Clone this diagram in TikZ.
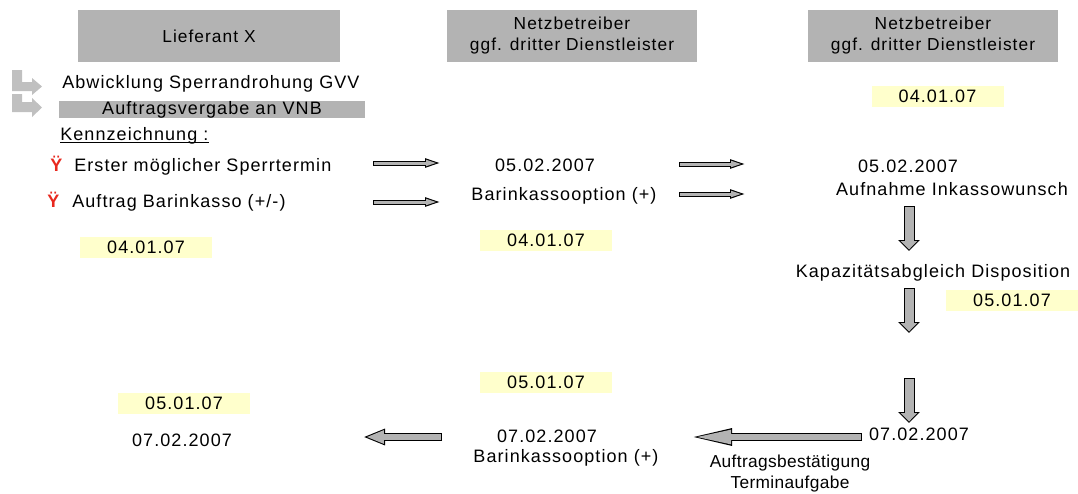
\documentclass[tikz,border=0pt]{standalone}
\usepackage{fontspec}
\setmainfont{Liberation Sans}[LetterSpace=6]
\usetikzlibrary{arrows.meta}
\definecolor{boxgray}{HTML}{B3B3B3}
\definecolor{bendgray}{HTML}{C0C0C0}
\definecolor{notefill}{HTML}{FFFFCC}
\definecolor{markred}{HTML}{E8281E}
% block arrow: black outline pass, then grey filling pass
\newcommand{\blockarrow}[3]{\draw[#1 out] (#2) -- (#3); \draw[#1 in] (#2) -- (#3);}

\begin{document}
\begin{tikzpicture}[x=0.75pt,y=-0.75pt,
    lbl/.style={inner sep=0pt, font=\fontsize{13.5}{16}\selectfont},
    head/.style={fill=boxgray, minimum width=187.5pt, minimum height=39pt, align=center, font=\fontsize{13}{15.75}\selectfont},
    datebox/.style={fill=notefill, minimum width=99pt, minimum height=15.75pt, inner sep=0pt, font=\fontsize{13.5}{16}\selectfont},
    thin out/.style={line width=3.75pt, -{Triangle[length=12.75pt,width=6pt]}},
    thin in/.style={boxgray, line width=2.25pt, shorten <=0.75pt, shorten >=3.3pt, -{Triangle[length=8.7pt,width=4.1pt]}},
    down out/.style={line width=8.25pt, -{Triangle[length=8.25pt,width=15.75pt]}},
    down in/.style={boxgray, line width=6.75pt, shorten <=0.75pt, shorten >=1.1pt, -{Triangle[length=6.4pt,width=12.2pt]}},
    long out/.style={line width=6pt, -{Triangle[length=33.75pt,width=11.25pt]}},
    long in/.style={boxgray, line width=4.5pt, shorten <=0.75pt, shorten >=4.6pt, -{Triangle[length=28.4pt,width=9.5pt]}},
    short out/.style={line width=6pt, -{Triangle[length=16.5pt,width=11.25pt]}},
    short in/.style={boxgray, line width=4.5pt, shorten <=0.75pt, shorten >=2.3pt, -{Triangle[length=13.4pt,width=9.2pt]}}]
    \path[use as bounding box, fill=white] (0,0) rectangle (1078,493);

    % column heads
    \node[head, minimum width=196.5pt] (lief) at (209,36) {Lieferant X};
    \node[head] (nb1) at (572,36) {Netzbetreiber\\ggf. dritter Dienstleister};
    \node[head] (nb2) at (933,36) {Netzbetreiber\\ggf. dritter Dienstleister};

    % left column
    \fill[bendgray] (12,70) -- (22,70) -- (22,82) -- (32,82) -- (32,78) -- (42,86.5) -- (32,95) -- (32,91) -- (12,91) -- cycle;
    \fill[bendgray] (12,94) -- (22,94) -- (22,102) -- (32,102) -- (32,98) -- (42,107.5) -- (32,117) -- (32,112) -- (12,112) -- cycle;
    \node[lbl, anchor=base west] (abw) at (62,88) {Abwicklung Sperrandrohung GVV};
    \node[lbl, fill=boxgray, minimum width=229.5pt, minimum height=12.75pt] (vergabe) at (212,109.5) {Auftragsvergabe an VNB};
    \node[lbl, anchor=base west] (kenn) at (60,140) {Kennzeichnung :};
    \draw[line width=0.6pt] ([yshift=-1.5pt]kenn.base west) -- ([yshift=-1.5pt]kenn.base east);
    \node[lbl, anchor=base west, text=markred] (mark1) at (50,171) {\bfseries Ÿ};
    \node[lbl, anchor=base west] (erster) at (74,171) {Erster möglicher Sperrtermin};
    \node[lbl, anchor=base west, text=markred] (mark2) at (47,207) {\bfseries Ÿ};
    \node[lbl, anchor=base west] (barauf) at (72,207) {Auftrag Barinkasso (+/-)};
    \node[datebox] (date1) at (146,247.5) {04.01.07};
    \node[datebox] (date6) at (184,403) {05.01.07};
    \node[lbl, anchor=base] (term5) at (182,446) {07.02.2007};

    % middle column
    \node[lbl, anchor=base] (term1) at (545,171) {05.02.2007};
    \node[lbl, anchor=base] (opt1) at (564,200) {Barinkassooption (+)};
    \node[datebox] (date2) at (546,240) {04.01.07};
    \node[datebox] (date5) at (546,382.5) {05.01.07};
    \node[lbl, anchor=base] (term4) at (547,442) {07.02.2007};
    \node[lbl, anchor=base] (opt2) at (566,462) {Barinkassooption (+)};

    % right column
    \node[datebox] (date3) at (937.5,96.5) {04.01.07};
    \node[lbl, anchor=base] (term2) at (908,172) {05.02.2007};
    \node[lbl, anchor=base] (inkasso) at (952,195) {Aufnahme Inkassowunsch};
    \node[lbl, anchor=base] (kapa) at (933,277) {Kapazitätsabgleich Disposition};
    \node[datebox] (date4) at (1012,300.5) {05.01.07};
    \node[lbl, anchor=base] (term3) at (919,440) {07.02.2007};
    \node[lbl, anchor=base, font=\fontsize{13}{16}\selectfont\addfontfeature{LetterSpace=2}] (best) at (790,467) {Auftragsbestätigung};
    \node[lbl, anchor=base, font=\fontsize{13}{16}\selectfont\addfontfeature{LetterSpace=2}] (termin) at (790,488) {Terminaufgabe};

    % arrow ends
    \coordinate (r1a) at (373,163); \coordinate (r1b) at (442,163);
    \coordinate (r2a) at (373,202); \coordinate (r2b) at (442,202);
    \coordinate (r3a) at (679,164); \coordinate (r3b) at (747,164);
    \coordinate (r4a) at (679,194); \coordinate (r4b) at (747,194);
    \coordinate (d1a) at (909,206); \coordinate (d1b) at (909,251);
    \coordinate (d2a) at (909,288); \coordinate (d2b) at (909,333);
    \coordinate (d3a) at (909,378); \coordinate (d3b) at (909,423);
    \coordinate (l1a) at (862,437); \coordinate (l1b) at (687,437);
    \coordinate (l2a) at (442,437); \coordinate (l2b) at (363,437);

    \blockarrow{thin}{r1a}{r1b}
    \blockarrow{thin}{r2a}{r2b}
    \blockarrow{thin}{r3a}{r3b}
    \blockarrow{thin}{r4a}{r4b}
    \blockarrow{down}{d1a}{d1b}
    \blockarrow{down}{d2a}{d2b}
    \blockarrow{down}{d3a}{d3b}
    \blockarrow{long}{l1a}{l1b}
    \blockarrow{short}{l2a}{l2b}
\end{tikzpicture}
\end{document}
